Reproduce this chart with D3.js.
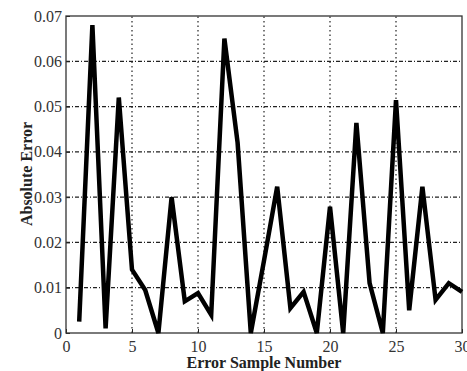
<!DOCTYPE html>
<html>
<head>
<meta charset="utf-8">
<script src="https://cdn.jsdelivr.net/npm/d3@7"></script>
<style>
  body { margin: 0; background: #fff; }
  svg { display: block; }
</style>
</head>
<body>
<div id="chart"></div>
<script>
// error samples
const samples = d3.range(1, 31);
const absError = [
  0.0025, 0.068, 0.001, 0.052, 0.014, 0.0095, 0, 0.030, 0.007, 0.0088,
  0.004, 0.065, 0.042, 0, 0.016, 0.0323, 0.0055, 0.0091, 0, 0.0279,
  0, 0.0464, 0.011, 0, 0.0514, 0.005, 0.0323, 0.0073, 0.011, 0.0091
];
const xTicks = [0, 5, 10, 15, 20, 25, 30];
const yTicks = [0, 0.01, 0.02, 0.03, 0.04, 0.05, 0.06, 0.07];

const width = 467, height = 371;
const margin = { top: 16, right: 5, bottom: 38, left: 66 };
const serif = '"Liberation Serif", "Times New Roman", serif';

const svg = d3.select('#chart').append('svg')
  .attr('width', width)
  .attr('height', height);

const x = d3.scaleLinear().domain([0, 30]).range([margin.left, width - margin.right]);
const y = d3.scaleLinear().domain([0, 0.07]).range([height - margin.bottom, margin.top]);

// grid
const grid = svg.append('g')
  .attr('stroke', '#222')
  .attr('stroke-width', 1.2)
  .attr('stroke-dasharray', '4,2,1,2');

grid.selectAll('.gx')
  .data(xTicks.slice(1, -1))
  .join('line')
  .attr('x1', d => x(d)).attr('x2', d => x(d))
  .attr('y1', y(0)).attr('y2', y(0.07))
  .attr('stroke-dasharray', '1.5,3');

grid.selectAll('.gy')
  .data(yTicks.slice(1, -1))
  .join('line')
  .attr('x1', x(0)).attr('x2', x(30))
  .attr('y1', d => y(d)).attr('y2', d => y(d));

// axes
const xAxis = svg.append('g')
  .attr('transform', `translate(0,${y(0)})`)
  .call(d3.axisBottom(x).tickValues(xTicks).tickSize(-4).tickPadding(8).tickFormat(d3.format('d')));

const yAxis = svg.append('g')
  .attr('transform', `translate(${x(0)},0)`)
  .call(d3.axisLeft(y).tickValues(yTicks).tickSize(-4).tickPadding(4)
    .tickFormat(d => d === 0 ? '0' : d3.format('.2f')(d)));

[xAxis, yAxis].forEach(a => {
  a.attr('font-family', serif).attr('font-size', 16);
  a.select('.domain').remove();
  a.selectAll('.tick line').attr('stroke', '#222');
  a.selectAll('.tick text').attr('fill', '#333');
});

// frame
svg.append('rect')
  .attr('x', x(0)).attr('y', y(0.07))
  .attr('width', x(30) - x(0))
  .attr('height', y(0) - y(0.07))
  .attr('fill', 'none')
  .attr('stroke', '#333')
  .attr('stroke-width', 1.3);

// data line
const line = d3.line()
  .x((d, i) => x(samples[i]))
  .y(d => y(d));

svg.append('path')
  .datum(absError)
  .attr('fill', 'none')
  .attr('stroke', '#000')
  .attr('stroke-width', 4.5)
  .attr('stroke-linejoin', 'miter')
  .attr('d', line);

// labels
svg.append('text')
  .attr('x', 264)
  .attr('y', 368)
  .attr('text-anchor', 'middle')
  .attr('font-family', serif)
  .attr('font-weight', 'bold')
  .attr('font-size', 16)
  .attr('fill', '#222')
  .text('Error Sample Number');

svg.append('text')
  .attr('transform', 'translate(32,174) rotate(-90)')
  .attr('text-anchor', 'middle')
  .attr('font-family', serif)
  .attr('font-weight', 'bold')
  .attr('font-size', 16)
  .attr('fill', '#222')
  .text('Absolute Error');
</script>
</body>
</html>
